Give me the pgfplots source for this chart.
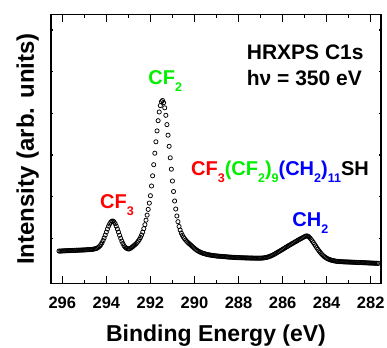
\documentclass[border=0pt]{standalone}
\usepackage{pgfplots}
\pgfplotsset{compat=1.18}
\usepackage{fontspec}
\setmainfont{Liberation Sans}
\definecolor{myred}{RGB}{255,0,0}
\definecolor{mygreen}{RGB}{0,240,0}
\definecolor{myblue}{RGB}{0,0,255}
\newcommand{\sub}[1]{\raisebox{-7pt}{\fontsize{12.5}{12.5}\selectfont #1}}
\begin{document}
\begin{tikzpicture}
\path[use as bounding box] (-51pt,-63.5pt) rectangle (336pt,283.5pt);
\begin{axis}[
  at={(0pt,0pt)}, anchor=south west, scale only axis,
  width=330pt, height=269.2pt,
  x dir=reverse, xmin=281.533, xmax=296.513, ymin=0.5, ymax=269.7,
  xtick={282,284,286,288,290,292,294,296},
  minor xtick={283,285,287,289,291,293,295},
  ytick=\empty,
  tick align=inside, major tick length=7.3pt, minor tick length=4pt,
  axis line style={line width=1.2pt},
  every tick/.style={black, line width=1.2pt},
  /pgf/number format/assume math mode=true,
  xticklabel style={font=\fontsize{16.5}{16.5}\selectfont\bfseries, anchor=base, yshift=-24.8pt},
  xlabel={Binding Energy (eV)},
  ylabel={Intensity (arb. units)},
  every axis x label/.style={at={(axis description cs:0.5,-0.2173)}, anchor=base, font=\fontsize{23}{23}\selectfont\bfseries},
  every axis y label/.style={at={(axis description cs:-0.0518,0.5)}, anchor=base, rotate=90, font=\fontsize{24}{24}\selectfont\bfseries},
]
\addplot[only marks, mark=o, mark size=2.1pt, mark options={line width=0.75pt, black}] table {
296.15 33.0
296.10 32.8
296.05 33.1
296.00 33.0
295.95 33.2
295.90 33.1
295.85 33.3
295.80 33.2
295.75 33.4
295.70 33.3
295.65 33.5
295.60 33.4
295.55 33.6
295.50 33.5
295.45 33.7
295.40 33.6
295.35 33.8
295.30 33.7
295.25 33.9
295.20 33.8
295.15 34.0
295.10 33.9
295.05 34.1
295.00 34.0
294.95 34.2
294.90 34.2
294.85 34.4
294.80 34.3
294.75 34.5
294.70 34.5
294.65 34.7
294.60 34.7
294.55 35.1
294.50 35.3
294.45 35.6
294.40 36.1
294.35 36.9
294.30 38.0
294.25 39.4
294.20 41.2
294.15 43.4
294.10 46.0
294.05 48.9
294.00 51.9
293.95 55.0
293.90 57.8
293.85 60.1
293.80 61.9
293.75 62.8
293.70 62.9
293.65 62.0
293.60 60.3
293.55 57.9
293.50 55.0
293.45 51.9
293.40 48.7
293.35 45.7
293.30 42.9
293.25 40.5
293.20 38.3
293.15 37.0
293.10 36.0
293.05 35.3
293.00 35.0
292.95 35.2
292.90 35.8
292.85 36.6
292.80 37.5
292.75 38.4
292.70 39.3
292.65 40.3
292.60 41.5
292.55 42.9
292.50 44.6
292.45 46.6
292.40 49.0
292.35 51.9
292.30 55.3
292.25 59.3
292.20 63.8
292.15 68.9
292.10 74.6
292.05 80.9
292.00 88.3
291.95 98.0
291.90 108.2
291.85 119.3
291.80 130.8
291.75 142.2
291.70 153.1
291.65 163.3
291.60 172.0
291.55 178.4
291.50 182.3
291.45 183.5
291.40 181.3
291.35 176.2
291.30 168.7
291.25 159.4
291.20 148.8
291.15 137.7
291.10 126.2
291.05 114.8
291.00 103.0
290.95 92.5
290.90 83.0
290.85 75.0
290.80 68.0
290.75 62.3
290.70 57.5
290.65 54.0
290.60 51.0
290.55 48.8
290.50 46.8
290.45 45.3
290.40 43.9
290.35 42.6
290.30 41.5
290.25 40.5
290.20 39.6
290.15 38.6
290.10 37.6
290.05 36.6
290.00 35.6
289.95 34.7
289.90 33.9
289.85 33.2
289.80 32.6
289.75 32.0
289.70 31.5
289.65 31.0
289.60 30.6
289.55 30.3
289.50 30.0
289.45 29.7
289.40 29.4
289.35 29.2
289.30 29.0
289.25 28.8
289.20 28.6
289.15 28.5
289.10 28.3
289.05 28.2
289.00 28.0
288.95 27.9
288.90 27.9
288.85 27.7
288.80 27.7
288.75 27.5
288.70 27.5
288.65 27.3
288.60 27.3
288.55 27.1
288.50 27.1
288.45 26.9
288.40 26.9
288.35 26.8
288.30 26.8
288.25 26.6
288.20 26.7
288.15 26.5
288.10 26.5
288.05 26.4
288.00 26.4
287.95 26.3
287.90 26.3
287.85 26.2
287.80 26.3
287.75 26.1
287.70 26.2
287.65 26.0
287.60 26.1
287.55 26.0
287.50 26.0
287.45 25.9
287.40 26.0
287.35 25.9
287.30 25.9
287.25 25.8
287.20 25.9
287.15 25.8
287.10 25.9
287.05 25.8
287.00 25.9
286.95 25.9
286.90 26.0
286.85 26.1
286.80 26.3
286.75 26.5
286.70 26.8
286.65 27.1
286.60 27.5
286.55 27.9
286.50 28.4
286.45 28.9
286.40 29.5
286.35 30.1
286.30 30.7
286.25 31.4
286.20 32.0
286.15 32.7
286.10 33.3
286.05 34.0
286.00 34.6
285.95 35.3
285.90 36.0
285.85 36.7
285.80 37.3
285.75 38.0
285.70 38.7
285.65 39.3
285.60 40.0
285.55 40.6
285.50 41.2
285.45 41.9
285.40 42.5
285.35 43.1
285.30 43.8
285.25 44.4
285.20 45.0
285.15 45.6
285.10 46.2
285.05 46.8
285.00 47.4
284.95 47.9
284.90 48.1
284.85 47.8
284.80 46.9
284.75 45.8
284.70 44.5
284.65 43.0
284.60 41.4
284.55 39.7
284.50 38.0
284.45 36.3
284.40 34.7
284.35 33.2
284.30 31.8
284.25 30.5
284.20 29.3
284.15 28.2
284.10 27.3
284.05 26.5
284.00 25.8
283.95 25.2
283.90 24.7
283.85 24.3
283.80 23.9
283.75 23.6
283.70 23.3
283.65 23.1
283.60 22.9
283.55 22.7
283.50 22.6
283.45 22.5
283.40 22.4
283.35 22.3
283.30 22.3
283.25 22.2
283.20 22.1
283.15 22.1
283.10 22.0
283.05 22.1
283.00 21.9
282.95 22.0
282.90 21.8
282.85 21.9
282.80 21.7
282.75 21.8
282.70 21.6
282.65 21.6
282.60 21.5
282.55 21.6
282.50 21.4
282.45 21.5
282.40 21.3
282.35 21.4
282.30 21.2
282.25 21.3
282.20 21.1
282.15 21.2
282.10 21.0
282.05 21.1
282.00 20.9
281.95 21.0
281.90 20.8
281.85 20.9
281.80 20.7
281.75 20.8
281.70 20.6
281.65 20.7
};
\node[anchor=base west, inner sep=0pt, font=\fontsize{21}{21}\selectfont\bfseries] at (axis cs:287.63,224.7) {HRXPS C1s};
\node[anchor=base west, inner sep=0pt, font=\fontsize{21}{21}\selectfont\bfseries] at (axis cs:287.63,198.3) {hν = 350 eV};
\node[anchor=base west, inner sep=0pt, font=\fontsize{20}{20}\selectfont\bfseries, text=mygreen] at (axis cs:292.10,199) {CF\sub{2}};
\node[anchor=base west, inner sep=0pt, font=\fontsize{20}{20}\selectfont\bfseries, text=myred] at (axis cs:294.29,75.7) {CF\sub{3}};
\node[anchor=base west, inner sep=0pt, font=\fontsize{20}{20}\selectfont\bfseries, text=myblue] at (axis cs:285.56,57.3) {CH\sub{2}};
\node[anchor=base west, inner sep=0pt, font=\fontsize{20}{20}\selectfont\bfseries] at (axis cs:290.16,108.3) {\textcolor{myred}{CF\sub{3}}\textcolor{mygreen}{(CF\sub{2})\sub{9}}\textcolor{myblue}{(CH\sub{2})\sub{11}}SH};
\end{axis}
\begin{axis}[
  at={(0pt,0pt)}, anchor=south west, scale only axis,
  width=330pt, height=269.2pt,
  xmin=0, xmax=1, ymin=0.5, ymax=269.7,
  xtick=\empty,
  ytick={45.7,87.3,129,170.7,212.3,254}, yticklabels={},
  tick align=inside, major tick length=2pt,
  axis line style={line width=1.2pt},
  every tick/.style={black, line width=1.2pt},
]
\end{axis}
\end{tikzpicture}
\end{document}
